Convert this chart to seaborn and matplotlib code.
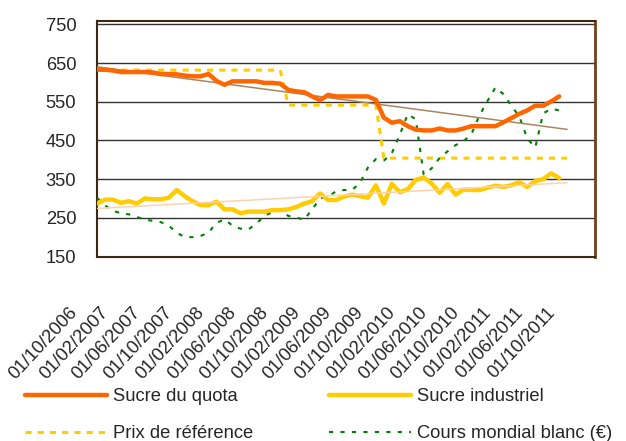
import numpy as np
import pandas as pd
import matplotlib
matplotlib.use("Agg")
import matplotlib.pyplot as plt
import seaborn as sns
from matplotlib.font_manager import FontProperties

# ---- data (monthly, Oct 2006 .. Aug 2011) ----
sucre_quota = [633, 633, 631, 627, 627, 627, 627, 626, 622, 622, 621, 618, 616, 616, 622,
               604, 594, 603, 603, 603, 603, 599, 599, 597, 581, 577, 575, 564, 554, 568,
               564, 564, 564, 564, 564, 555, 509, 496, 500, 487, 478, 476, 476, 481, 476,
               476, 481, 487, 487, 487, 487, 497, 508, 519, 528, 540, 540, 551, 564]
sucre_industriel = [287, 297, 297, 289, 293, 287, 300, 298, 298, 302, 322, 306, 293, 283, 283,
                    292, 272, 272, 262, 266, 266, 266, 270, 270, 272, 278, 287, 293, 313, 296,
                    296, 305, 310, 306, 302, 334, 287, 338, 316, 324, 348, 354, 339, 315, 337,
                    310, 323, 322, 322, 328, 333, 330, 334, 342, 330, 345, 350, 365, 353]
cours_mondial = [302, 282, 268, 262, 259, 252, 246, 242, 239, 230, 212, 200, 200, 203, 212,
                 237, 246, 230, 222, 220, 235, 255, 265, 272, 255, 251, 245, 272, 300, 306,
                 318, 322, 322, 340, 380, 402, 398, 417, 465, 518, 505, 362, 378, 405, 422,
                 438, 448, 467, 515, 552, 587, 570, 540, 512, 455, 432, 520, 532, 528]
prix_reference = [632] * 24 + [541.5] * 12 + [404.4] * 24
tick_labels = ["01/10/2006", "01/02/2007", "01/06/2007", "01/10/2007", "01/02/2008",
               "01/06/2008", "01/10/2008", "01/02/2009", "01/06/2009", "01/10/2009",
               "01/02/2010", "01/06/2010", "01/10/2010", "01/02/2011", "01/06/2011",
               "01/10/2011"]
y_ticks = [150, 250, 350, 450, 550, 650, 750]

sns.set_style("white")
plt.rcParams["font.family"] = ["Liberation Sans", "DejaVu Sans"]
FS = 13.2
FP = FontProperties(family=["Liberation Sans", "DejaVu Sans"], size=FS)
PX = FS * 100 / 72  # font size in pixels

fig = plt.figure(figsize=(6.26, 4.41), dpi=100)
ax = fig.add_axes([97 / 626, 1 - 256.5 / 441, (595 - 97) / 626, (256.5 - 21) / 441])

n = len(sucre_quota)
df = pd.DataFrame({"m": np.arange(n), "quota": sucre_quota, "indus": sucre_industriel,
                   "cours": cours_mondial})
dfp = pd.DataFrame({"m": np.arange(len(prix_reference)), "prix": prix_reference})

for v in y_ticks[1:]:
    ax.axhline(v, color="#333333", lw=1.0, zorder=1)

# trendlines (linear fit of the series)
mt = np.arange(len(prix_reference))
cq = np.polyfit(df["m"], df["quota"], 1)
ci = np.polyfit(df["m"], df["indus"], 1)
ax.plot(mt, np.polyval(cq, mt), color="#A88560", lw=1.1, zorder=4)
ax.plot(mt, np.polyval(ci, mt), color="#FFD3AA", lw=1.1, zorder=4)

sns.lineplot(data=dfp, x="m", y="prix", ax=ax, color="#FFCC00", lw=2.2,
             linestyle=(0, (2, 2)), zorder=2, label="Prix de référence")
sns.lineplot(data=df, x="m", y="cours", ax=ax, color="#008000", lw=1.5,
             linestyle=(0, (2, 3.5)), zorder=3, label="Cours mondial blanc (€)")
sns.lineplot(data=df, x="m", y="indus", ax=ax, color="#FFCC00", lw=3.2, zorder=3,
             label="Sucre industriel")
sns.lineplot(data=df, x="m", y="quota", ax=ax, color="#FF6600", lw=3.2, zorder=5,
             label="Sucre du quota")

ax.set_xlim(0, 62.5)
ax.set_ylim(150, 759)
ax.set_yticks(y_ticks)
ax.set_yticklabels([str(v) for v in y_ticks], fontproperties=FP)
ax.tick_params(axis="y", length=0, pad=15)
ax.set_xticks(np.arange(0, 4 * len(tick_labels), 4))
ax.set_xticklabels([])
ax.tick_params(axis="x", direction="in", length=6, width=1, color="#888888")
ax.set_xlabel("")
ax.set_ylabel("")

for s in ["left", "bottom", "top"]:
    ax.spines[s].set_color("#3f2810")
    ax.spines[s].set_linewidth(1.5)
ax.spines["right"].set_color("#6e4216")
ax.spines["right"].set_linewidth(2.0)

for i, lab in enumerate(tick_labels):
    ax.annotate(lab, xy=(4 * i, 0), xycoords=("data", "axes fraction"),
                xytext=(-21, -34), textcoords="offset points",
                rotation=47, rotation_mode="anchor", ha="right", va="top",
                fontproperties=FP, annotation_clip=False)

h, l = ax.get_legend_handles_labels()
order = ["Sucre du quota", "Prix de référence", "Sucre industriel", "Cours mondial blanc (€)"]
hh = [h[l.index(o)] for o in order]
# column 2 handle should start at x=329 px; column 1 text starts at 113 px
r = fig.canvas.get_renderer()
t = fig.text(0, 0, "Prix de référence", fontproperties=FP)
w1 = t.get_window_extent(renderer=r).width
t.remove()
ax.legend(hh, order, loc="upper left", bbox_to_anchor=(25 / 626, 1 - 388 / 441),
          bbox_transform=fig.transFigure, ncol=2, frameon=False, prop=FP,
          handlelength=82 / PX, handletextpad=6 / PX,
          columnspacing=(329 - 113 - w1) / PX, labelspacing=1.1,
          borderpad=0, borderaxespad=0)

fig.savefig("out.png", dpi=100)
